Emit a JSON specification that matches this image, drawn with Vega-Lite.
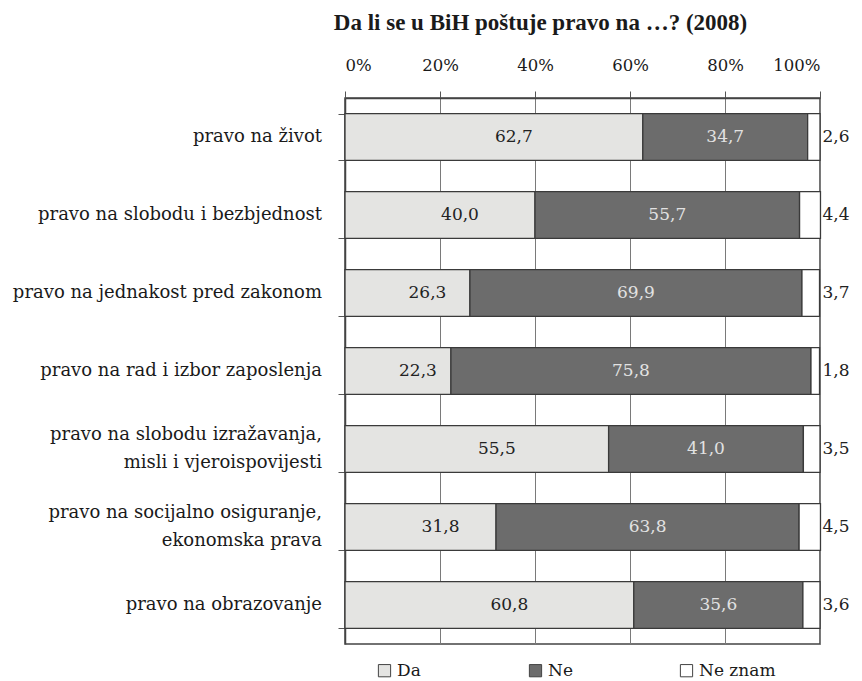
{
  "$schema": "https://vega.github.io/schema/vega-lite/v6.json",
  "width": 475,
  "height": 546,
  "autosize": {"type": "none"},
  "padding": {"left": 345, "top": 98, "right": 42, "bottom": 37},
  "background": "white",
  "title": {
    "text": "Da li se u BiH poštuje pravo na …? (2008)",
    "font": "Liberation Serif",
    "fontSize": 23,
    "fontWeight": "bold",
    "color": "#1a1a1a",
    "anchor": "middle",
    "dx": -42,
    "offset": 22
  },
  "data": {
    "values": [
      {"item": "pravo na život", "answer": "Da", "value": 62.7},
      {"item": "pravo na život", "answer": "Ne", "value": 34.7},
      {"item": "pravo na život", "answer": "Ne znam", "value": 2.6},
      {"item": "pravo na slobodu i bezbjednost", "answer": "Da", "value": 40.0},
      {"item": "pravo na slobodu i bezbjednost", "answer": "Ne", "value": 55.7},
      {"item": "pravo na slobodu i bezbjednost", "answer": "Ne znam", "value": 4.4},
      {"item": "pravo na jednakost pred zakonom", "answer": "Da", "value": 26.3},
      {"item": "pravo na jednakost pred zakonom", "answer": "Ne", "value": 69.9},
      {"item": "pravo na jednakost pred zakonom", "answer": "Ne znam", "value": 3.7},
      {"item": "pravo na rad i izbor zaposlenja", "answer": "Da", "value": 22.3},
      {"item": "pravo na rad i izbor zaposlenja", "answer": "Ne", "value": 75.8},
      {"item": "pravo na rad i izbor zaposlenja", "answer": "Ne znam", "value": 1.8},
      {"item": "pravo na slobodu izražavanja,|misli i vjeroispovijesti ", "answer": "Da", "value": 55.5},
      {"item": "pravo na slobodu izražavanja,|misli i vjeroispovijesti ", "answer": "Ne", "value": 41.0},
      {"item": "pravo na slobodu izražavanja,|misli i vjeroispovijesti ", "answer": "Ne znam", "value": 3.5},
      {"item": "pravo na socijalno osiguranje,|ekonomska prava", "answer": "Da", "value": 31.8},
      {"item": "pravo na socijalno osiguranje,|ekonomska prava", "answer": "Ne", "value": 63.8},
      {"item": "pravo na socijalno osiguranje,|ekonomska prava", "answer": "Ne znam", "value": 4.5},
      {"item": "pravo na obrazovanje", "answer": "Da", "value": 60.8},
      {"item": "pravo na obrazovanje", "answer": "Ne", "value": 35.6},
      {"item": "pravo na obrazovanje", "answer": "Ne znam", "value": 3.6}
    ]
  },
  "encoding": {
    "y": {
      "field": "item",
      "type": "nominal",
      "sort": null,
      "title": null,
      "scale": {"paddingInner": 0.4, "paddingOuter": 0.2},
      "axis": {
        "labels": false,
        "tickBand": "extent",
        "tickSize": 7,
        "tickColor": "#555",
        "domainColor": "#444",
        "domainWidth": 1.5,
        "grid": false
      }
    }
  },
  "layer": [
    {
      "mark": {"type": "bar", "stroke": "#3a3a3a", "strokeWidth": 1.3},
      "encoding": {
        "x": {
          "field": "value",
          "type": "quantitative",
          "stack": "zero",
          "title": null,
          "scale": {"domain": [0, 100], "nice": false},
          "axis": {
            "orient": "top",
            "values": [0, 20, 40, 60, 80, 100],
            "labelExpr": "datum.value + '%'",
            "labelFont": "DejaVu Serif",
            "labelFontSize": 16.5,
            "labelColor": "#1a1a1a",
            "labelPadding": 18,
            "tickSize": 7,
            "tickColor": "#555",
            "domainColor": "#444",
            "domainWidth": 1.5,
            "grid": true,
            "gridColor": "#7a7a7a",
            "gridWidth": 1
          }
        },
        "color": {
          "field": "answer",
          "type": "nominal",
          "scale": {"domain": ["Da", "Ne", "Ne znam"], "range": ["#e4e4e2", "#6c6c6c", "#ffffff"]},
          "legend": {
            "orient": "none",
            "legendX": 31,
            "legendY": 564,
            "direction": "horizontal",
            "title": null,
            "symbolType": "square",
            "symbolSize": 150,
            "symbolStrokeColor": "#444",
            "symbolStrokeWidth": 1,
            "labelFont": "DejaVu Serif",
            "labelFontSize": 17,
            "labelColor": "#1a1a1a",
            "gridAlign": "all",
            "columnPadding": 53
          }
        },
        "order": {"field": "answer", "sort": "ascending"}
      }
    },
    {
      "transform": [{"filter": "datum.answer == 'Da' && indexof(datum.item, '|') < 0"}],
      "mark": {"type": "text", "font": "DejaVu Serif", "fontSize": 18, "color": "#1a1a1a", "align": "right", "baseline": "middle", "dx": -23},
      "encoding": {
        "x": {"datum": 0},
        "text": {"field": "item"}
      }
    },
    {
      "transform": [{"filter": "datum.answer == 'Da' && indexof(datum.item, '|') >= 0"}],
      "mark": {"type": "text", "font": "DejaVu Serif", "fontSize": 18, "color": "#1a1a1a", "align": "right", "baseline": "middle", "dx": -23, "dy": -14, "lineBreak": "|", "lineHeight": 28},
      "encoding": {
        "x": {"datum": 0},
        "text": {"field": "item"}
      }
    },
    {
      "transform": [{"filter": "datum.answer == 'Da'"}],
      "mark": {"type": "text", "font": "DejaVu Serif", "fontSize": 17, "color": "#222", "dx": 20},
      "encoding": {
        "x": {"field": "value", "type": "quantitative", "stack": "zero", "bandPosition": 0.5},
        "text": {"field": "value", "type": "quantitative", "format": ".1f"}
      }
    },
    {
      "transform": [{"filter": "datum.answer != 'Ne znam'"}],
      "mark": {"type": "text", "font": "DejaVu Serif", "fontSize": 17, "color": "#e2e2e2"},
      "encoding": {
        "x": {"field": "value", "type": "quantitative", "stack": "zero", "bandPosition": 0.5},
        "order": {"field": "answer", "sort": "ascending"},
        "detail": {"field": "answer"},
        "text": {"field": "value", "type": "quantitative", "format": ".1f"},
        "opacity": {"condition": {"test": "datum.answer == 'Ne'", "value": 1}, "value": 0}
      }
    },
    {
      "transform": [{"filter": "datum.answer == 'Ne znam'"}],
      "mark": {"type": "text", "font": "DejaVu Serif", "fontSize": 17, "color": "#222", "dx": 16},
      "encoding": {
        "x": {"datum": 100},
        "text": {"field": "value", "type": "quantitative", "format": ".1f"}
      }
    }
  ],
  "config": {
    "locale": {"number": {"decimal": ",", "thousands": ".", "grouping": [3], "currency": ["", " €"]}},
    "view": {"stroke": "#444", "strokeWidth": 1.5},
    "axis": {"labelFont": "DejaVu Serif"}
  }
}
